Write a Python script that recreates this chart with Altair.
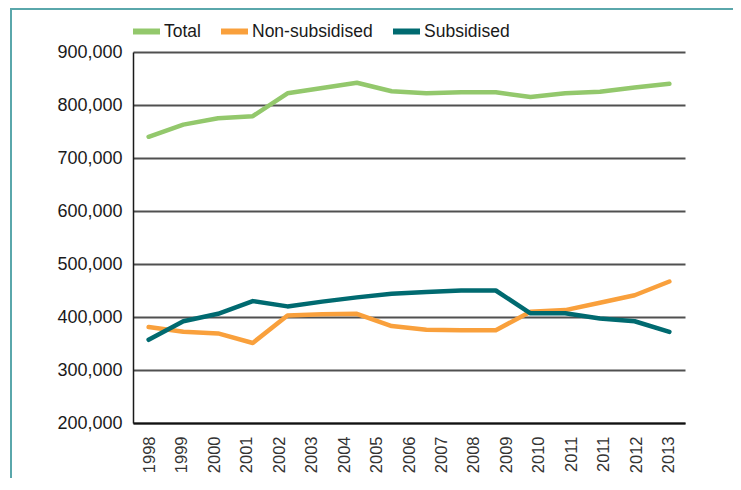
import altair as alt
import pandas as pd

years = ["1998", "1999", "2000", "2001", "2002", "2003", "2004", "2005",
         "2006", "2007", "2008", "2009", "2010", "2011", "2012", "2013"]
axis_labels = ["1998", "1999", "2000", "2001", "2002", "2003", "2004", "2005",
               "2006", "2007", "2008", "2009", "2010", "2011", "2011", "2012", "2013"]
series_names = ["Total", "Non-subsidised", "Subsidised"]
total = [740000, 763000, 775000, 779000, 822000, 832000, 842000, 826000,
         822000, 824000, 824000, 815000, 822000, 825000, 833000, 840000]
non_subsidised = [381000, 372000, 369000, 351000, 403000, 405000, 406000, 383000,
                  376000, 375000, 375000, 410000, 413000, 427000, 441000, 467000]
subsidised = [357000, 392000, 406000, 430000, 420000, 429000, 437000, 444000,
              447000, 450000, 450000, 407000, 407000, 397000, 392000, 372000]
y_ticks = [200000, 300000, 400000, 500000, 600000, 700000, 800000, 900000]
colors = ["#93c86c", "#f9a03c", "#006a70"]
frame_color = "#5aa7ab"

rows = []
for name, vals in zip(series_names, [total, non_subsidised, subsidised]):
    for yr, v in zip(years, vals):
        rows.append({"year": yr, "series": name, "value": v})
df = pd.DataFrame(rows)
labels_df = pd.DataFrame({"idx": list(range(len(axis_labels)))})
label_expr = "[" + ",".join("'" + l + "'" for l in axis_labels) + "][datum.value]"

FONT = "Liberation Sans"

lines = alt.Chart(df).mark_line(
    strokeWidth=4.5, strokeCap="round", strokeJoin="round"
).encode(
    x=alt.X("year:O", axis=None, scale=alt.Scale(type="point", padding=0.45)),
    y=alt.Y(
        "value:Q",
        scale=alt.Scale(domain=[200000, 900000], nice=False, zero=False),
        axis=alt.Axis(
            values=y_ticks, format=",d", title=None, ticks=False,
            labelPadding=11, labelFontSize=18, labelFont=FONT, labelColor="#1a1a1a",
            grid=True, gridColor="#505050", gridWidth=2,
            domainColor="#1a1a1a", domainWidth=1.5,
        ),
    ),
    color=alt.Color(
        "series:N",
        sort=series_names,
        scale=alt.Scale(domain=series_names, range=colors),
        legend=alt.Legend(
            title=None, orient="none", legendX=-3, legendY=-37,
            direction="horizontal", symbolType="stroke", symbolSize=729,
            symbolStrokeWidth=6, labelFontSize=17.5, labelFont=FONT,
            labelColor="#1a1a1a", columnPadding=8, labelOffset=1,
            gridAlign="none",
        ),
    ),
)

xlabels = alt.Chart(labels_df).mark_point(opacity=0).encode(
    x=alt.X(
        "idx:O",
        scale=alt.Scale(type="point", padding=0.5),
        axis=alt.Axis(
            orient="bottom", labelExpr=label_expr, labelAngle=-90, title=None,
            ticks=False, labelPadding=13, labelFontSize=16.5, labelFont=FONT,
            labelColor="#333333", domainColor="#111111", domainWidth=2, grid=False,
        ),
    )
)

one = pd.DataFrame({"k": [0]})
top_frame = alt.Chart(one).mark_rule(color=frame_color, strokeWidth=2).encode(
    x=alt.value(-123), x2=alt.value(600), y=alt.value(-43)
)
left_frame = alt.Chart(one).mark_rule(color=frame_color, strokeWidth=2).encode(
    x=alt.value(-122), y=alt.value(-44), y2=alt.value(430)
)

chart = alt.layer(top_frame, left_frame, lines, xlabels).resolve_scale(
    x="independent"
).properties(
    width=552, height=371,
    autosize=alt.AutoSizeParams(type="none"),
    padding={"left": 125, "top": 44, "right": 48, "bottom": 55},
).configure_view(stroke=None)

chart.save("out.html", embed_options={"renderer": "svg", "actions": False})
